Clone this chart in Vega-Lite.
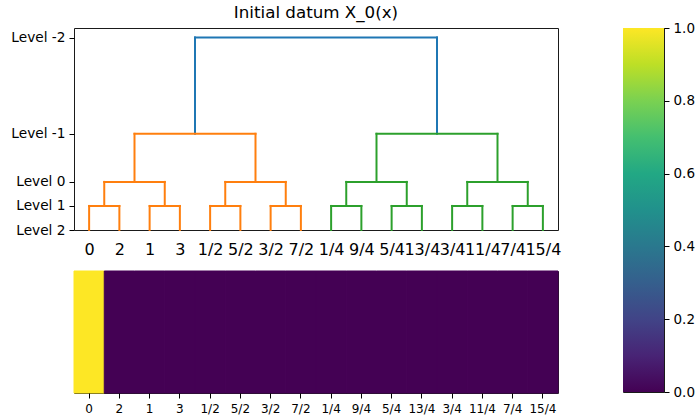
{
  "$schema": "https://vega.github.io/schema/vega-lite/v6.json",
  "padding": {"left": 10, "top": 4, "right": 5, "bottom": 5},
  "config": {
    "font": "DejaVu Sans",
    "view": {"stroke": "#1a1a1a", "strokeWidth": 1},
    "axis": {"grid": false, "domain": false, "labelColor": "#000", "tickColor": "#000", "tickWidth": 1, "labelFont": "DejaVu Sans", "labelOverlap": false},
    "title": {"font": "DejaVu Sans", "fontWeight": "normal", "fontSize": 16.7, "color": "#000"}
  },
  "datasets": {
    "links": [
      {"xl": 5, "xr": 15, "yl": 0, "yr": 0, "h": 1, "branch": "left"},
      {"xl": 25, "xr": 35, "yl": 0, "yr": 0, "h": 1, "branch": "left"},
      {"xl": 45, "xr": 55, "yl": 0, "yr": 0, "h": 1, "branch": "left"},
      {"xl": 65, "xr": 75, "yl": 0, "yr": 0, "h": 1, "branch": "left"},
      {"xl": 85, "xr": 95, "yl": 0, "yr": 0, "h": 1, "branch": "right"},
      {"xl": 105, "xr": 115, "yl": 0, "yr": 0, "h": 1, "branch": "right"},
      {"xl": 125, "xr": 135, "yl": 0, "yr": 0, "h": 1, "branch": "right"},
      {"xl": 145, "xr": 155, "yl": 0, "yr": 0, "h": 1, "branch": "right"},
      {"xl": 10, "xr": 30, "yl": 1, "yr": 1, "h": 2, "branch": "left"},
      {"xl": 50, "xr": 70, "yl": 1, "yr": 1, "h": 2, "branch": "left"},
      {"xl": 90, "xr": 110, "yl": 1, "yr": 1, "h": 2, "branch": "right"},
      {"xl": 130, "xr": 150, "yl": 1, "yr": 1, "h": 2, "branch": "right"},
      {"xl": 20, "xr": 60, "yl": 2, "yr": 2, "h": 4, "branch": "left"},
      {"xl": 100, "xr": 140, "yl": 2, "yr": 2, "h": 4, "branch": "right"},
      {"xl": 40, "xr": 120, "yl": 4, "yr": 4, "h": 8, "branch": "root"}
    ],
    "cells": [
      {"label": "0", "value": 1},
      {"label": "2", "value": 0},
      {"label": "1", "value": 0},
      {"label": "3", "value": 0},
      {"label": "1/2", "value": 0},
      {"label": "5/2", "value": 0},
      {"label": "3/2", "value": 0},
      {"label": "7/2", "value": 0},
      {"label": "1/4", "value": 0},
      {"label": "9/4", "value": 0},
      {"label": "5/4", "value": 0},
      {"label": "13/4", "value": 0},
      {"label": "3/4", "value": 0},
      {"label": "11/4", "value": 0},
      {"label": "7/4", "value": 0},
      {"label": "15/4", "value": 0}
    ]
  },
  "spacing": 60,
  "hconcat": [
    {
      "spacing": 12,
      "vconcat": [
        {
          "width": 484,
          "height": 202,
          "title": {"text": "Initial datum X_0(x)", "offset": 6},
          "data": {"name": "links"},
          "layer": [
            {
              "mark": {"type": "rule", "strokeWidth": 2, "strokeCap": "square"},
              "encoding": {
                "x": {"field": "xl", "type": "quantitative",
                      "scale": {"domain": [0, 160], "nice": false, "zero": false},
                      "axis": {"title": null, "values": [5, 15, 25, 35, 45, 55, 65, 75, 85, 95, 105, 115, 125, 135, 145, 155], "tickCount": 40,
                               "labelExpr": "['0','2','1','3','1/2','5/2','3/2','7/2','1/4','9/4','5/4','13/4','3/4','11/4','7/4','15/4'][(datum.value-5)/10]",
                               "ticks": false, "tickSize": 0, "labelPadding": 11, "labelFontSize": 16, "labelOverlap": false, "labelBound": false, "labelFlush": false}},
                "y": {"field": "yl", "type": "quantitative",
                      "scale": {"domain": [0, 8.4], "nice": false},
                      "axis": {"title": null, "values": [0, 1, 2, 4, 8], "tickCount": 20,
                               "labelExpr": "datum.value == 0 ? 'Level 2' : datum.value == 1 ? 'Level 1' : datum.value == 2 ? 'Level 0' : datum.value == 4 ? 'Level -1' : 'Level -2'",
                               "tickSize": 5, "labelPadding": 4, "labelFontSize": 13.7, "labelOverlap": false, "labelFlush": false, "labelBound": false}},
                "y2": {"field": "h"},
                "color": {"field": "branch", "type": "nominal", "scale": {"domain": ["root", "left", "right"], "range": ["#1f77b4", "#ff7f0e", "#2ca02c"]}, "legend": null}
              }
            },
            {
              "mark": {"type": "rule", "strokeWidth": 2, "strokeCap": "square"},
              "encoding": {
                "x": {"field": "xr", "type": "quantitative"},
                "y": {"field": "yr", "type": "quantitative"},
                "y2": {"field": "h"},
                "color": {"field": "branch", "type": "nominal", "legend": null}
              }
            },
            {
              "mark": {"type": "rule", "strokeWidth": 2, "strokeCap": "square"},
              "encoding": {
                "x": {"field": "xl", "type": "quantitative"},
                "x2": {"field": "xr"},
                "y": {"field": "h", "type": "quantitative"},
                "color": {"field": "branch", "type": "nominal", "legend": null}
              }
            }
          ]
        },
        {
          "width": 484,
          "height": 122,
          "data": {"name": "cells"},
          "mark": {"type": "rect", "strokeWidth": 1},
          "encoding": {
            "x": {"field": "label", "type": "nominal",
                  "sort": ["0", "2", "1", "3", "1/2", "5/2", "3/2", "7/2", "1/4", "9/4", "5/4", "13/4", "3/4", "11/4", "7/4", "15/4"],
                  "scale": {"paddingInner": 0, "paddingOuter": 0},
                  "axis": {"title": null, "labelAngle": 0, "tickSize": 5, "labelPadding": 5, "labelFontSize": 12, "labelOverlap": false}},
            "color": {"field": "value", "type": "quantitative", "scale": {"scheme": "viridis", "domain": [0, 1]}, "legend": null},
            "stroke": {"field": "value", "type": "quantitative", "scale": {"scheme": "viridis", "domain": [0, 1]}, "legend": null}
          }
        }
      ]
    },
    {
      "width": 41,
      "height": 364,
      "data": {"values": [{"lo": 0, "hi": 1}]},
      "mark": {"type": "rect", "fill": {"gradient": "linear", "x1": 0, "y1": 1, "x2": 0, "y2": 0,
        "stops": [
          {"offset": 0, "color": "#440154"}, {"offset": 0.1, "color": "#482475"}, {"offset": 0.2, "color": "#414487"},
          {"offset": 0.3, "color": "#355f8d"}, {"offset": 0.4, "color": "#2a788e"}, {"offset": 0.5, "color": "#21918c"},
          {"offset": 0.6, "color": "#22a884"}, {"offset": 0.7, "color": "#44bf70"}, {"offset": 0.8, "color": "#7ad151"},
          {"offset": 0.9, "color": "#bddf26"}, {"offset": 1, "color": "#fde725"}]}},
      "encoding": {
        "y": {"field": "lo", "type": "quantitative", "scale": {"domain": [0, 1], "nice": false},
              "axis": {"title": null, "orient": "right", "values": [0, 0.2, 0.4, 0.6, 0.8, 1], "tickCount": 20, "format": ".1f", "tickSize": 5, "labelPadding": 4, "labelFontSize": 13.5, "labelFlush": false, "labelBound": false}},
        "y2": {"field": "hi"}
      }
    }
  ]
}
